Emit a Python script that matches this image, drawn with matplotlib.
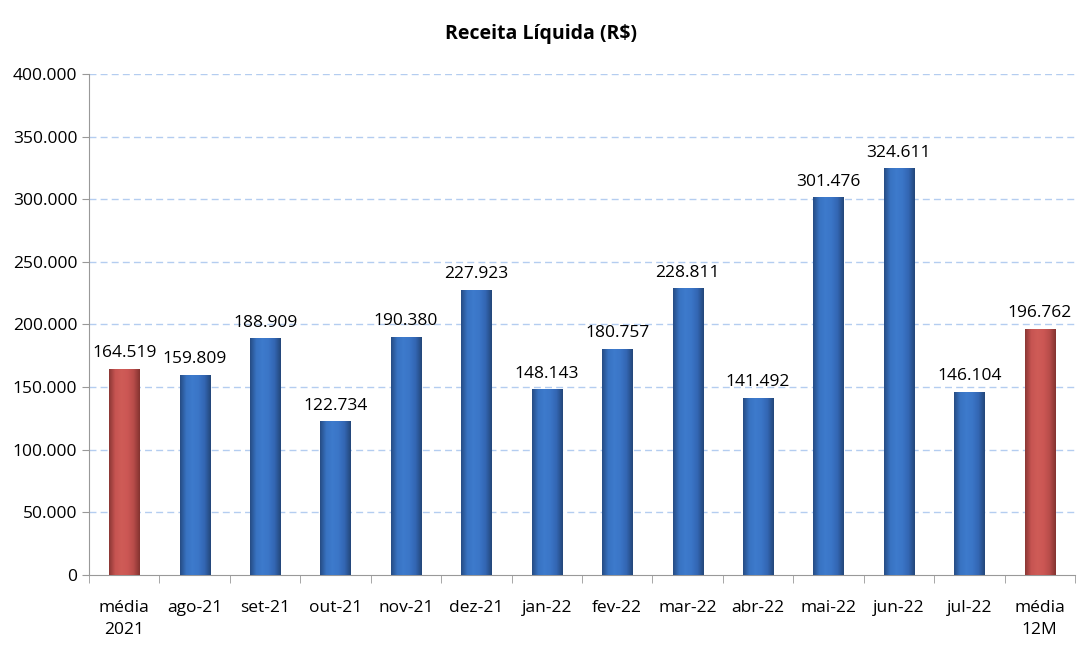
import numpy as np
import matplotlib
matplotlib.use("Agg")
import matplotlib.pyplot as plt
from matplotlib.ticker import FuncFormatter, MultipleLocator

plt.rcParams['font.family'] = ['Open Sans', 'DejaVu Sans']

# data
categories = ["média\n2021", "ago-21", "set-21", "out-21", "nov-21", "dez-21", "jan-22",
              "fev-22", "mar-22", "abr-22", "mai-22", "jun-22", "jul-22", "média\n12M"]
values = [164519, 159809, 188909, 122734, 190380, 227923, 148143,
          180757, 228811, 141492, 301476, 324611, 146104, 196762]
is_average = [True] + [False] * 12 + [True]


def fmt_br(v, pos=None):
    return f"{int(round(v)):,}".replace(",", ".")


fig = plt.figure(figsize=(10.82, 6.45), dpi=100)
ax = fig.add_axes([0.0823, 0.1085, 0.9112, 0.7768])

x = np.arange(len(categories))
bars = ax.bar(x, values, width=0.43, color="none", edgecolor="none", zorder=3)

# shading across each bar, dark edges and a flat middle
blue_grad = [(0.15, 0.30, 0.52), (0.22, 0.45, 0.76), (0.24, 0.48, 0.80), (0.23, 0.46, 0.78), (0.20, 0.40, 0.70), (0.14, 0.28, 0.48)]
red_grad = [(0.55, 0.22, 0.21), (0.78, 0.33, 0.32), (0.81, 0.36, 0.34), (0.80, 0.34, 0.33), (0.72, 0.30, 0.29), (0.52, 0.20, 0.19)]
for b, avg in zip(bars, is_average):
    cols = np.array(red_grad if avg else blue_grad)
    t = np.linspace(0, 1, 60)
    pts = np.linspace(0, 1, len(cols))
    img = np.stack([np.interp(t, pts, cols[:, i]) for i in range(3)], axis=-1)[None, :, :]
    x0, w, h = b.get_x(), b.get_width(), b.get_height()
    im = ax.imshow(img, extent=[x0, x0 + w, 0, h], aspect="auto", zorder=3)
    im.set_clip_path(b)

for xi, v in zip(x, values):
    ax.text(xi, v + 6000, fmt_br(v), ha="center", va="bottom", fontsize=12.5, color="black", zorder=4)

ax.set_xlim(-0.5, len(categories) - 0.5)
ax.set_ylim(0, 400000)
ax.yaxis.set_major_locator(MultipleLocator(50000))
ax.yaxis.set_major_formatter(FuncFormatter(fmt_br))
ax.set_xticks(x)
ax.set_xticklabels(categories, fontsize=12.5, linespacing=1.5)
ax.set_xticks(np.arange(-0.5, len(categories), 1), minor=True)
ax.tick_params(axis="x", which="major", length=0, pad=18)
ax.tick_params(axis="x", which="minor", length=6, color="#999999")
ax.tick_params(axis="y", length=5, color="#999999", labelsize=12.5)

for y in np.arange(50000, 400001, 50000):
    ax.axhline(y, color="#b4cdf0", linestyle=(0, (5, 3)), linewidth=1, zorder=1)

for s in ["top", "right"]:
    ax.spines[s].set_visible(False)
ax.spines["left"].set_color("#999999")
ax.spines["bottom"].set_color("#999999")

fig.text(0.5, 0.948, "Receita Líquida (R$)", ha="center", va="center", fontsize=14, fontweight="bold")

fig.savefig("out.png", dpi=100)
